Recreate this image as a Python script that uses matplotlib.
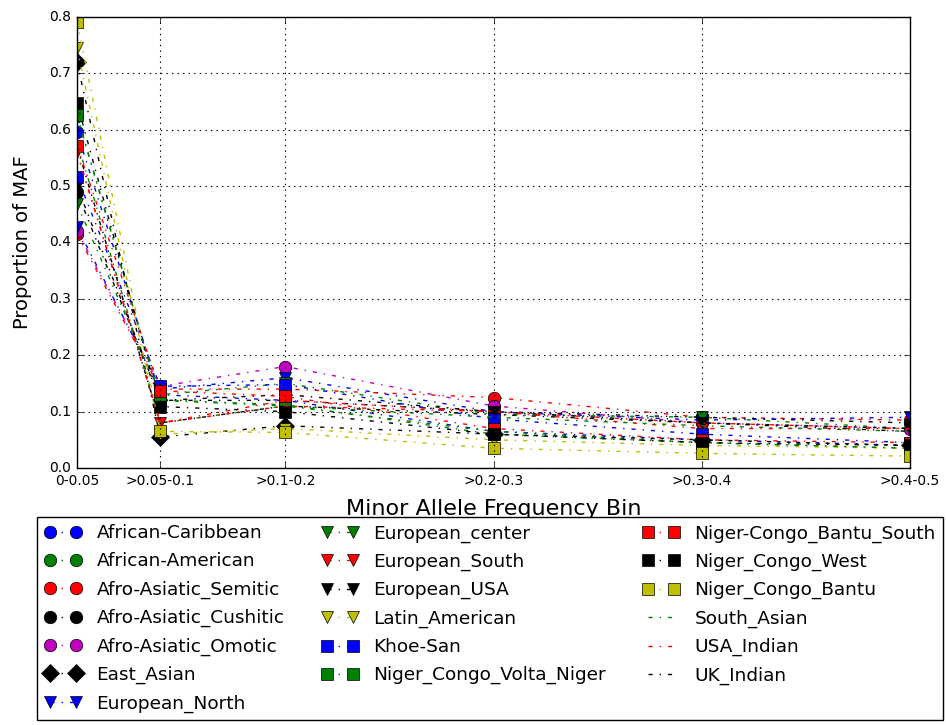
import matplotlib
matplotlib.use("Agg")
import matplotlib.pyplot as plt

plt.style.use("classic")

bin_labels = ["0-0.05", ">0.05-0.1", ">0.1-0.2", ">0.2-0.3", ">0.3-0.4", ">0.4-0.5"]
bin_pos = [0.05, 0.09, 0.15, 0.25, 0.35, 0.45]

populations = [
    "African-Caribbean", "African-American", "Afro-Asiatic_Semitic",
    "Afro-Asiatic_Cushitic", "Afro-Asiatic_Omotic", "East_Asian",
    "European_North", "European_center", "European_South", "European_USA",
    "Latin_American", "Khoe-San", "Niger_Congo_Volta_Niger",
    "Niger-Congo_Bantu_South", "Niger_Congo_West", "Niger_Congo_Bantu",
    "South_Asian", "USA_Indian", "UK_Indian",
]

african_caribbean = [0.596, 0.130, 0.120, 0.065, 0.050, 0.040]
african_american = [0.625, 0.120, 0.110, 0.065, 0.045, 0.035]
afro_asiatic_semitic = [0.415, 0.140, 0.140, 0.125, 0.090, 0.085]
afro_asiatic_cushitic = [0.490, 0.120, 0.120, 0.100, 0.090, 0.080]
afro_asiatic_omotic = [0.420, 0.145, 0.180, 0.110, 0.080, 0.070]
east_asian = [0.720, 0.055, 0.075, 0.060, 0.050, 0.040]
european_north = [0.427, 0.140, 0.160, 0.100, 0.085, 0.090]
european_center = [0.468, 0.130, 0.150, 0.095, 0.090, 0.070]
european_south = [0.560, 0.080, 0.120, 0.100, 0.070, 0.070]
european_usa = [0.500, 0.120, 0.130, 0.100, 0.080, 0.070]
latin_american = [0.745, 0.060, 0.070, 0.050, 0.040, 0.035]
khoe_san = [0.517, 0.145, 0.148, 0.087, 0.060, 0.045]
niger_congo_volta_niger = [0.627, 0.121, 0.112, 0.060, 0.045, 0.035]
niger_congo_bantu_south = [0.572, 0.137, 0.127, 0.070, 0.050, 0.045]
niger_congo_west = [0.648, 0.109, 0.100, 0.060, 0.045, 0.040]
niger_congo_bantu = [0.792, 0.065, 0.063, 0.035, 0.026, 0.021]
south_asian = [0.580, 0.080, 0.110, 0.090, 0.075, 0.065]
usa_indian = [0.560, 0.080, 0.110, 0.100, 0.080, 0.070]
uk_indian = [0.570, 0.080, 0.110, 0.095, 0.080, 0.065]

series = [
    african_caribbean, african_american, afro_asiatic_semitic,
    afro_asiatic_cushitic, afro_asiatic_omotic, east_asian,
    european_north, european_center, european_south, european_usa,
    latin_american, khoe_san, niger_congo_volta_niger,
    niger_congo_bantu_south, niger_congo_west, niger_congo_bantu,
    south_asian, usa_indian, uk_indian,
]

colors = ["b", "g", "r", "k", "m", "k",
          "b", "g", "r", "k", "y",
          "b", "g", "r", "k", "y",
          "g", "r", "k"]
markers = ["o", "o", "o", "o", "o", "D",
           "v", "v", "v", "v", "v",
           "s", "s", "s", "s", "s",
           "", "", ""]

fig = plt.figure(figsize=(9.46, 7.25), dpi=100)
fig.patch.set_facecolor("white")
ax = fig.add_axes([77 / 946, 1 - 468 / 725, 833 / 946, 451 / 725])

for name, vals, c, m in zip(populations, series, colors, markers):
    ax.plot(bin_pos, vals, linestyle="-.", color=c, marker=m if m else "None",
            markersize=9, markeredgecolor="k", markeredgewidth=0.5,
            linewidth=1.0, label=name)

ax.set_xlim(bin_pos[0], bin_pos[-1])
ax.set_ylim(0.0, 0.8)
ax.set_xticks(bin_pos)
ax.set_xticklabels(bin_labels, fontsize=10)
ax.set_yticks([i / 10 for i in range(9)])
ax.set_yticklabels(["%.1f" % (i / 10) for i in range(9)], fontsize=10)
ax.grid(True, color="k", linestyle=":", linewidth=0.8)
ax.set_xlabel("Minor Allele Frequency Bin", fontsize=16, labelpad=8)
ax.set_ylabel("Proportion of MAF", fontsize=14)
ax.yaxis.set_label_coords(-0.054, 0.5)

ax.legend(loc="upper center", bbox_to_anchor=(0.496, -0.088), ncol=3,
          numpoints=2, fontsize=13.3, labelspacing=0.55, borderpad=0.4,
          frameon=True)

fig.savefig("out.png", dpi=100, facecolor="white")
